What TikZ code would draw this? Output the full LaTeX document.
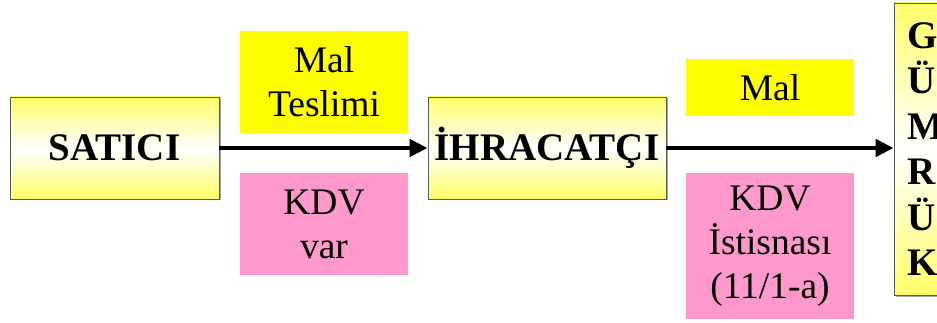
\documentclass[tikz,border=0pt]{standalone}
\usepackage{fontspec}
\setmainfont{Liberation Serif}
\usetikzlibrary{arrows.meta,shadows}
\definecolor{labyellow}{HTML}{FFFF00}
\definecolor{labpink}{HTML}{FF99CC}
\definecolor{boxyellow}{HTML}{FFFF66}
\begin{document}
\begin{tikzpicture}[x=1pt,y=-1pt,
  mainbox/.style={draw=black!65, line width=0.8pt, top color=boxyellow, bottom color=boxyellow, middle color=white,
    inner sep=0pt, font=\fontsize{39}{45.5}\selectfont\bfseries,
    drop shadow={shadow xshift=1.5pt, shadow yshift=-1.5pt, fill=black!35, opacity=1}},
  label/.style={inner sep=0pt, minimum width=168pt, align=center, font=\fontsize{37.5}{44}\selectfont},
  yel/.style={label, fill=labyellow},
  pnk/.style={label, fill=labpink},
  arr/.style={line width=4.5pt, -{Triangle[length=18pt,width=17pt]}, shorten >=0pt}
]
\useasboundingbox (0,0) rectangle (937,323);
\node[mainbox, minimum width=209pt, minimum height=102pt] (sat) at (114.5,148) {SATICI};
\node[mainbox, minimum width=238pt, minimum height=102pt] (ihr) at (547,148) {İHRACATÇI};
\node[mainbox, minimum width=91pt, minimum height=292pt, align=left, text width=64pt] (gum) at (939.5,149)
  {\raisebox{-4pt}{\parbox{64pt}{\fontsize{39}{45.5}\selectfont\bfseries G\\Ü\\M\\R\\Ü\\K}}};
\node[yel, minimum height=102pt] (mt) at (324,82) {Mal\\Teslimi};
\node[pnk, minimum height=102pt] (kv) at (324,224) {KDV\\var};
\node[yel, minimum height=57pt] (mal) at (770,88) {Mal};
\node[pnk, minimum height=146pt] (ki) at (770,246) {KDV\\İstisnası\\(11/1-a)};
\draw[arr] (sat.east) -- (sat.east -| ihr.west);
\draw[arr] (ihr.east) -- (ihr.east -| gum.west);
\end{tikzpicture}
\end{document}
